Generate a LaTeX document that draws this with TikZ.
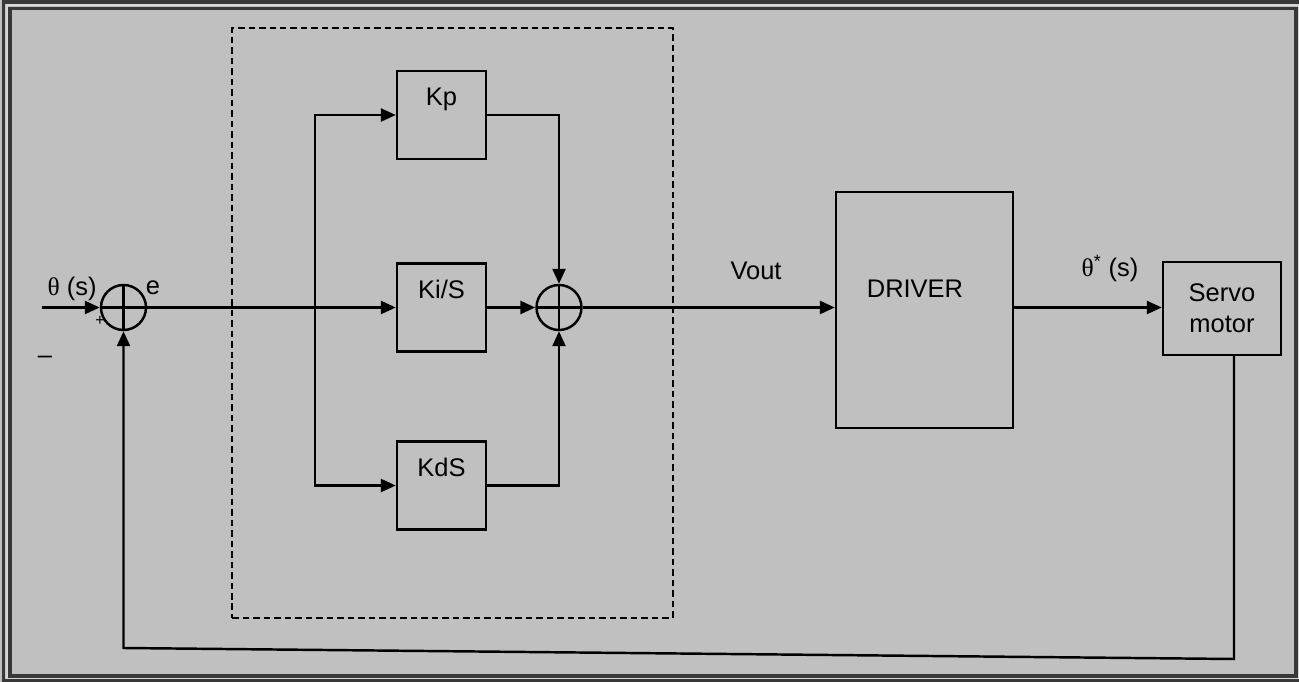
\documentclass[tikz,border=0pt]{standalone}
\usepackage{fontspec}
\setmainfont{Liberation Sans}
\newfontfamily\symbfont{Liberation Serif}
\usetikzlibrary{arrows.meta, positioning}
\definecolor{panelgray}{RGB}{192,192,192}
\definecolor{framegray}{RGB}{56,56,56}
\definecolor{framelight}{RGB}{215,215,215}

\begin{document}
\begin{tikzpicture}[x=0.02cm, y=-0.02cm, line width=1.4pt, >={Triangle[length=0.3cm, width=0.26cm]}, font=\fontsize{14.5}{17.5}\selectfont]

\tikzstyle{block} = [rectangle, draw, inner sep=0pt]
\tikzstyle{gain} = [block, minimum width=1.78cm, inner ysep=0pt, text height=0.70cm, text depth=1.06cm]
\tikzstyle{sumnode} = [circle, draw, minimum size=0.9cm, inner sep=0pt, path picture={\draw (path picture bounding box.north) -- (path picture bounding box.south) (path picture bounding box.west) -- (path picture bounding box.east);}]
\tikzstyle{lbl} = [anchor=base, inner sep=0pt]

% Background and frame
\useasboundingbox (0,0) rectangle (1299,682);
\fill[panelgray] (0,0) rectangle (1299,682);
\draw[framegray, line width=2.2pt] (3.5,2) rectangle (1300.5,680.5);
\draw[framelight, line width=1.2pt] (7,5) rectangle (1298,678);
\draw[framegray, line width=2.2pt] (10,8.5) rectangle (1296,676);

% Nodes
\node[draw, dashed, line width=1pt, dash pattern=on 0.13cm off 0.08cm, minimum width=8.82cm, minimum height=11.8cm] (pid) at (452.5,323) {};
\node[sumnode] (sum1) at (123.5,307.5) {};
\node[gain] (kp) at (441.5,115) {Kp};
\node[gain] (kis) at (441.5,307.5) {Ki/S};
\node[gain] (kds) at (441.5,485.5) {KdS};
\node[sumnode] (sum2) at (559,307.5) {};
\node[block, minimum width=3.54cm, minimum height=4.72cm] (drv) at (924.5,310) {};
\node[block, minimum width=2.36cm, minimum height=1.86cm, align=center] (servo) at (1222,308.5) {Servo\\motor};

% Labels
\node[lbl] (thin) at (72,296) {{\symbfont θ} (s)};
\node[lbl] (elbl) at (153,295) {e};
\node[font=\small, inner sep=0pt] (plus) at (100,321) {+};
\node[inner sep=0pt] (minus) at (45,360) {–};
\node[lbl] (vout) at (756,280) {Vout};
\node[lbl] (drvtxt) at (915,298) {DRIVER};
\node[lbl] (thout) at (1110,277) {{\symbfont θ}\textsuperscript{*} (s)};

% Connections
\coordinate (in) at (42,307.5);
\coordinate (br) at (315,307.5);
\coordinate (fbR) at (1234,659);
\coordinate (fbL) at (123.5,648);

\draw[->] (in) -- (sum1);
\draw[->] (sum1) -- (kis);
\draw[->] (br) |- (kp);
\draw[->] (br) |- (kds);
\draw[->] (kp) -| (sum2);
\draw[->] (kis) -- (sum2);
\draw[->] (kds) -| (sum2);
\draw[->] (sum2) -- (sum2 -| drv.west);
\draw[->] (sum2 -| drv.east) -- (sum2 -| servo.west);
\draw[->] (servo.south -| fbR) -- (fbR) -- (fbL) -- (sum1);

\end{tikzpicture}
\end{document}
